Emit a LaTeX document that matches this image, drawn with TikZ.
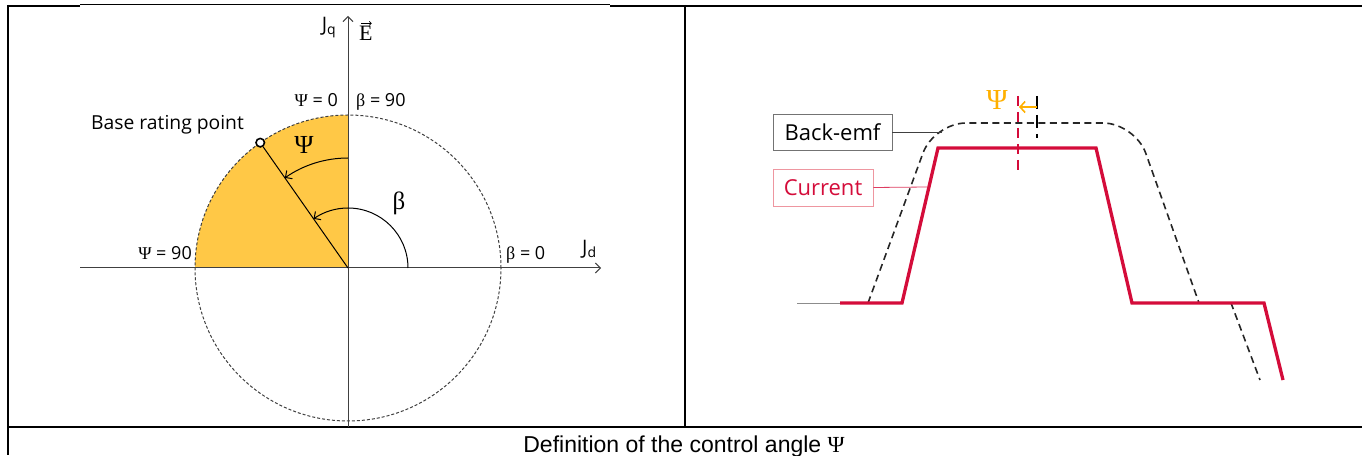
\documentclass[tikz,border=0pt]{standalone}
\usepackage{fontspec}
\setmainfont{Open Sans}
\newfontfamily\grk{Liberation Serif}
\newfontfamily\arial{Liberation Sans}
\usetikzlibrary{arrows.meta,calc}
\definecolor{qfill}{RGB}{255,200,70}
\definecolor{crim}{RGB}{212,12,58}
\definecolor{psiorange}{RGB}{255,176,0}
\definecolor{boxpink}{RGB}{238,150,160}
\begin{document}
\begin{tikzpicture}[x=1pt,y=1pt,
  tbl/.style={line width=2pt},
  barb/.style={-{Straight Barb[length=5pt,width=10pt]}},
  axisline/.style={line width=1pt, draw=black!75, barb},
  anglearc/.style={line width=1pt, barb},
  lbl/.style={inner sep=0pt, font=\fontsize{18}{20}\selectfont},
  jlbl/.style={inner sep=0pt, font=\fontsize{20}{22}\selectfont},
  marker/.style={circle, draw=black, fill=white, line width=1.6pt, minimum size=8.5pt, inner sep=0pt},
  emf/.style={line width=1.6pt, draw=black!85, dash pattern=on 7pt off 4.5pt},
  cur/.style={line width=3.3pt, draw=crim},
  legendbox/.style={line width=0.9pt, inner sep=0pt, font=\fontsize{22}{24}\selectfont}
]
\useasboundingbox (0,0) rectangle (1362,455);
% ---------- table frame ----------
\draw[tbl] (7,449) -- (80,449);
\draw[line width=1pt] (80,450) -- (610,450);
\draw[tbl] (610,449) -- (1362,449);
\draw[tbl] (8,450) -- (8,0);
\draw[tbl] (685,450) -- (685,28);
\draw[tbl] (7,28) -- (1362,28);
\node[inner sep=0pt, anchor=base, font=\arial\fontsize{23}{25}\selectfont] (cap) at (684,3)
  {Definition of the control angle {\grk Ψ}};
% ---------- left panel: phasor diagram ----------
\coordinate (O) at (348,187);
\fill[qfill] (O) -- (348,340) arc[start angle=90, end angle=180, radius=153] -- cycle;
\draw[line width=1pt, draw=black!75, dash pattern=on 3pt off 2pt] (O) circle[radius=153];
\coordinate (qbot) at (348,28);
\coordinate (qtop) at (348,439);
\coordinate (dleft) at (80,187);
\coordinate (dright) at (601,187);
\draw[axisline] (qbot) -- (qtop);
\draw[axisline] (dleft) -- (dright);
\node[marker] (brp) at ($(O)+(125:153)$) {};
\draw[line width=1pt] (O) -- (brp);
\draw[anglearc] ($(O)+(90:110)$) arc[start angle=90, end angle=125, radius=110];
\draw[anglearc] ($(O)+(0:60)$) arc[start angle=0, end angle=125, radius=60];
\node[inner sep=0pt, font=\grk\fontsize{26}{28}\selectfont] (psiL) at (304,310) {Ψ};
\node[inner sep=0pt, font=\grk\fontsize{25}{27}\selectfont] (betaL) at (399,252) {β};
\node[lbl, anchor=base east] (psi0) at (338,348) {{\grk Ψ} = 0};
\node[lbl, anchor=base west] (beta90) at (356,348) {{\grk β} = 90};
\node[lbl, anchor=base west, font=\fontsize{19.3}{21}\selectfont] (base) at (91,325) {Base rating point};
\node[lbl, anchor=base east] (psi90) at (192,195) {{\grk Ψ} = 90};
\node[lbl, anchor=base west] (beta0) at (506,195) {{\grk β} = 0};
\node[jlbl, anchor=base east] (jq) at (336,423) {J\raisebox{-0.25ex}{\fontsize{14}{15}\selectfont q}};
\node[inner sep=0pt, anchor=base west, font=\grk\fontsize{22}{24}\selectfont] (evec) at (359,414) {E};
\draw[line width=0.7pt, -{Straight Barb[length=2pt,width=4pt]}]
  ([xshift=2pt,yshift=3pt]evec.north west) -- ([xshift=-1pt,yshift=3pt]evec.north east);
\node[jlbl, anchor=base west] (jd) at (582,200) {J\raisebox{-0.25ex}{\fontsize{14}{15}\selectfont d}};
% ---------- right panel: waveforms ----------
\draw[line width=0.8pt, draw=black!45] (797,152) -- (840,152);
\draw[emf] (868,152) -- (901,242) [rounded corners=32pt] -- (934,332) -- (1135,332) -- (1167,242)
  [sharp corners] -- (1199,152) -- (1231,152) -- (1260,75);
\draw[cur] (840,152) -- (902,152) -- (938,307) -- (1096,307) -- (1132,152) -- (1264,152) -- (1283,75);
\draw[line width=1.4pt, draw=crim, dash pattern=on 10pt off 6pt] (1018,359) -- (1018,280);
\draw[line width=1.4pt, draw=black, dash pattern=on 13pt off 6pt] (1037,359) -- (1037,317);
\coordinate (psiA) at (1037,348);
\coordinate (psiB) at (1019,348);
\draw[line width=1.6pt, draw=psiorange, -{Straight Barb[length=5pt,width=11pt]}] (psiA) -- (psiB);
\node[inner sep=0pt, text=psiorange, font=\grk\fontsize{29}{31}\selectfont] (psiR) at (997,355) {Ψ};
\node[legendbox, draw=black!55, minimum width=119pt, minimum height=36pt] (bemf) at (832.5,323) {Back-emf};
\node[legendbox, draw=boxpink, text=crim, minimum width=100pt, minimum height=37pt] (curbox) at (823,267.5) {Current};
\coordinate (bemfend) at (942,323);
\coordinate (curend) at (928,268);
\draw[line width=0.8pt, draw=black!75] (bemf.east) -- (bemfend);
\draw[line width=0.8pt, draw=crim!80] (curbox.east) -- (curend);
\end{tikzpicture}
\end{document}
